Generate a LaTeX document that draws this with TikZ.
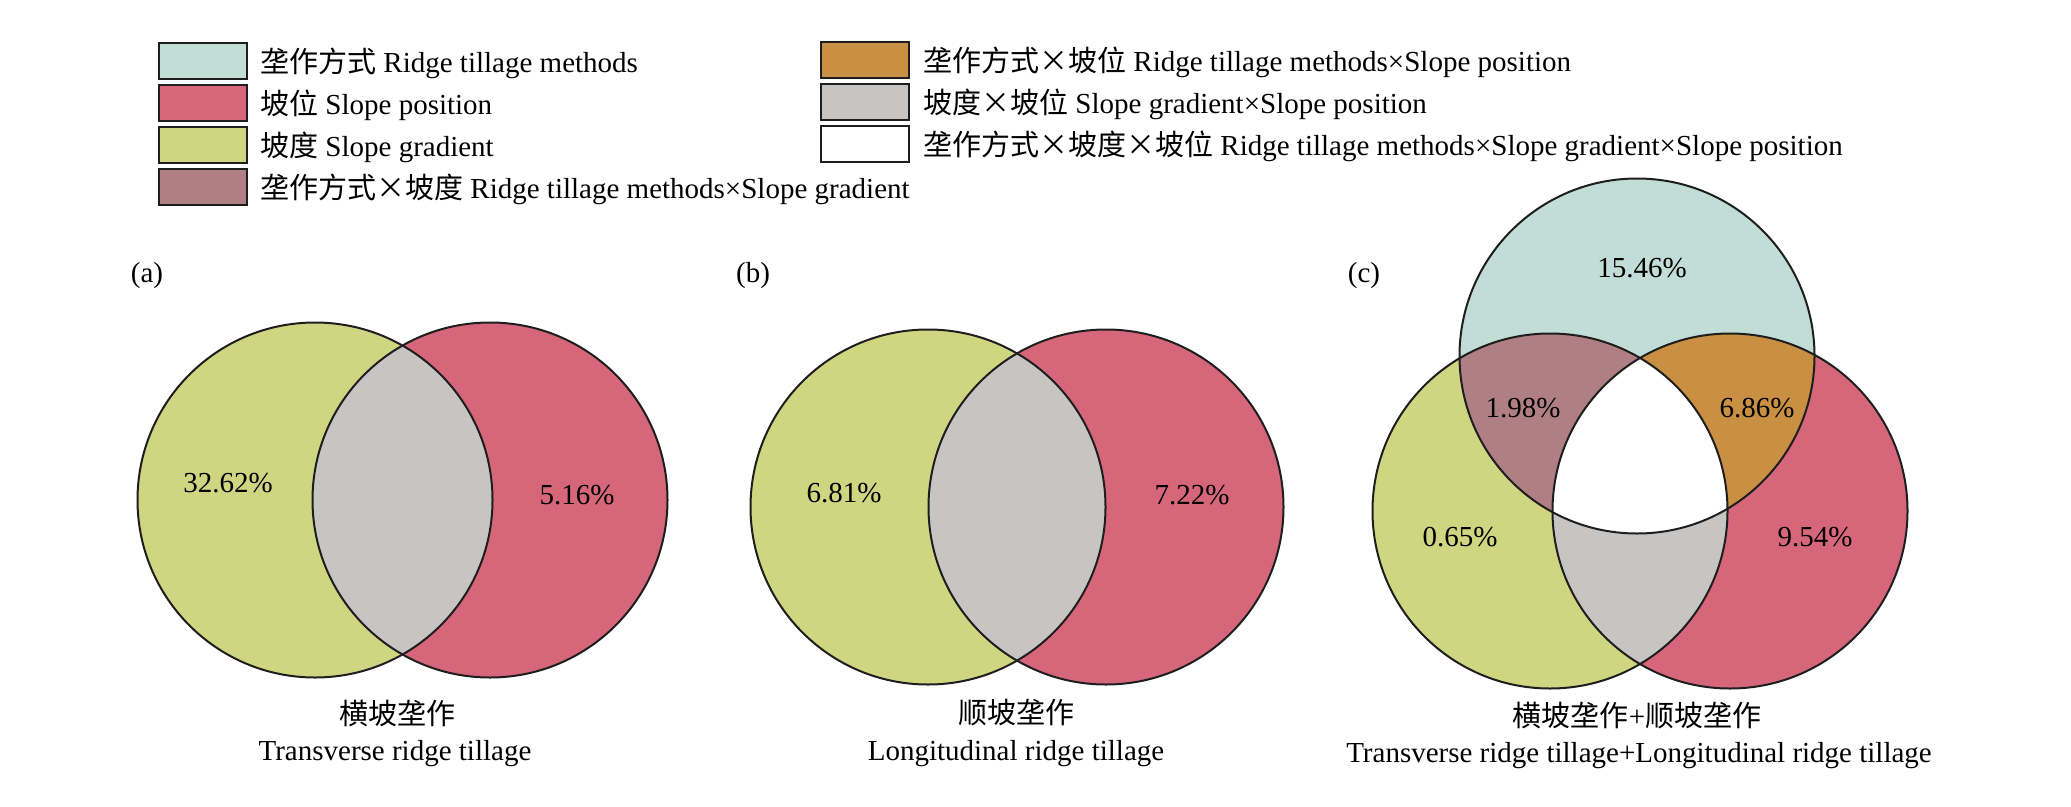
\documentclass[tikz,border=0pt]{standalone}
\usepackage{fontspec}
\setmainfont{Liberation Serif}
\newfontfamily\cjkfont{Noto Sans CJK SC}
\newcommand\zhs[1]{{\cjkfont #1}}
\newcommand\czx{\makebox[1em]{\cjkfont ×}}
\definecolor{cyanc}{HTML}{C1DDD6}
\definecolor{pinkc}{HTML}{D6677A}
\definecolor{yelc}{HTML}{CFD581}
\definecolor{mauvec}{HTML}{B07F83}
\definecolor{orangec}{HTML}{C98F42}
\definecolor{grayc}{HTML}{C6C5C4}
\definecolor{edgec}{HTML}{1E1E1E}
\begin{document}
\begin{tikzpicture}[x=1pt,y=1pt,
  txt/.style={font=\fontsize{29}{34}\selectfont, inner sep=0pt},
  outline/.style={draw=edgec, line width=2pt},
  legbox/.style={draw=edgec, line width=2pt, minimum width=88pt, minimum height=36pt, inner sep=0pt},
  rr/.style={radius=177.5pt}
]
\useasboundingbox (0,0) rectangle (2071,-806);

% ---------- legend ----------
\node[legbox, fill=cyanc]   (l1) at (203,-61)  {};
\node[legbox, fill=pinkc]   (l2) at (203,-103) {};
\node[legbox, fill=yelc]    (l3) at (203,-145) {};
\node[legbox, fill=mauvec]  (l4) at (203,-187) {};
\node[legbox, fill=orangec] (l5) at (865,-60)  {};
\node[legbox, fill=grayc]   (l6) at (865,-102) {};
\node[legbox, fill=white]   (l7) at (865,-144) {};

\node[txt, anchor=base west] (t1) at (260,-72)  {\zhs{垄作方式} Ridge tillage methods};
\node[txt, anchor=base west] (t2) at (260,-114) {\zhs{坡位} Slope position};
\node[txt, anchor=base west] (t3) at (260,-156) {\zhs{坡度} Slope gradient};
\node[txt, anchor=base west] (t4) at (260,-198) {\zhs{垄作方式}\czx\zhs{坡度} Ridge tillage methods×Slope gradient};
\node[txt, anchor=base west] (t5) at (923,-71)  {\zhs{垄作方式}\czx\zhs{坡位} Ridge tillage methods×Slope position};
\node[txt, anchor=base west] (t6) at (923,-113) {\zhs{坡度}\czx\zhs{坡位} Slope gradient×Slope position};
\node[txt, anchor=base west] (t7) at (923,-155) {\zhs{垄作方式}\czx\zhs{坡度}\czx\zhs{坡位} Ridge tillage methods×Slope gradient×Slope position};

% ---------- panel labels ----------
\node[txt] (pa) at (147,-276)  {(a)};
\node[txt] (pb) at (753,-276)  {(b)};
\node[txt] (pc) at (1364,-276) {(c)};

% ---------- (a) ----------
\coordinate (aY) at (315,-500);
\coordinate (aP) at (490,-500);
\fill[yelc] (aY) circle[rr];
\fill[pinkc] (aP) circle[rr];
\begin{scope}
  \clip (aY) circle[rr];
  \fill[grayc] (aP) circle[rr];
\end{scope}
\draw[outline] (aY) circle[rr];
\draw[outline] (aP) circle[rr];
\node[txt] (a1) at (228,-483) {32.62\%};
\node[txt] (a2) at (577,-495) {5.16\%};
\node[txt] (acn) at (397,-713) {\zhs{横坡垄作}};
\node[txt, anchor=base] (aen) at (395,-760) {Transverse ridge tillage};

% ---------- (b) ----------
\coordinate (bY) at (928,-507);
\coordinate (bP) at (1106,-507);
\fill[yelc] (bY) circle[rr];
\fill[pinkc] (bP) circle[rr];
\begin{scope}
  \clip (bY) circle[rr];
  \fill[grayc] (bP) circle[rr];
\end{scope}
\draw[outline] (bY) circle[rr];
\draw[outline] (bP) circle[rr];
\node[txt] (b1) at (844,-493) {6.81\%};
\node[txt] (b2) at (1192,-495) {7.22\%};
\node[txt] (bcn) at (1016,-713) {\zhs{顺坡垄作}};
\node[txt, anchor=base] (ben) at (1016,-760) {Longitudinal ridge tillage};

% ---------- (c) ----------
\coordinate (cC) at (1637,-356);
\coordinate (cY) at (1550,-511);
\coordinate (cP) at (1730,-511);
\fill[yelc] (cY) circle[rr];
\fill[pinkc] (cP) circle[rr];
\fill[cyanc] (cC) circle[rr];
\begin{scope}
  \clip (cC) circle[rr];
  \fill[mauvec] (cY) circle[rr];
  \fill[orangec] (cP) circle[rr];
\end{scope}
\begin{scope}
  \clip (cY) circle[rr];
  \fill[grayc] (cP) circle[rr];
  \clip (cP) circle[rr];
  \fill[white] (cC) circle[rr];
\end{scope}
\draw[outline] (cC) circle[rr];
\draw[outline] (cY) circle[rr];
\draw[outline] (cP) circle[rr];
\node[txt] (c1) at (1642,-268) {15.46\%};
\node[txt] (c2) at (1523,-408) {1.98\%};
\node[txt] (c3) at (1757,-408) {6.86\%};
\node[txt] (c4) at (1460,-537) {0.65\%};
\node[txt] (c5) at (1815,-537) {9.54\%};
\node[txt] (ccn) at (1637,-716) {\zhs{横坡垄作}+\zhs{顺坡垄作}};
\node[txt, anchor=base] (cen) at (1639,-762) {Transverse ridge tillage+Longitudinal ridge tillage};
\end{tikzpicture}
\end{document}
